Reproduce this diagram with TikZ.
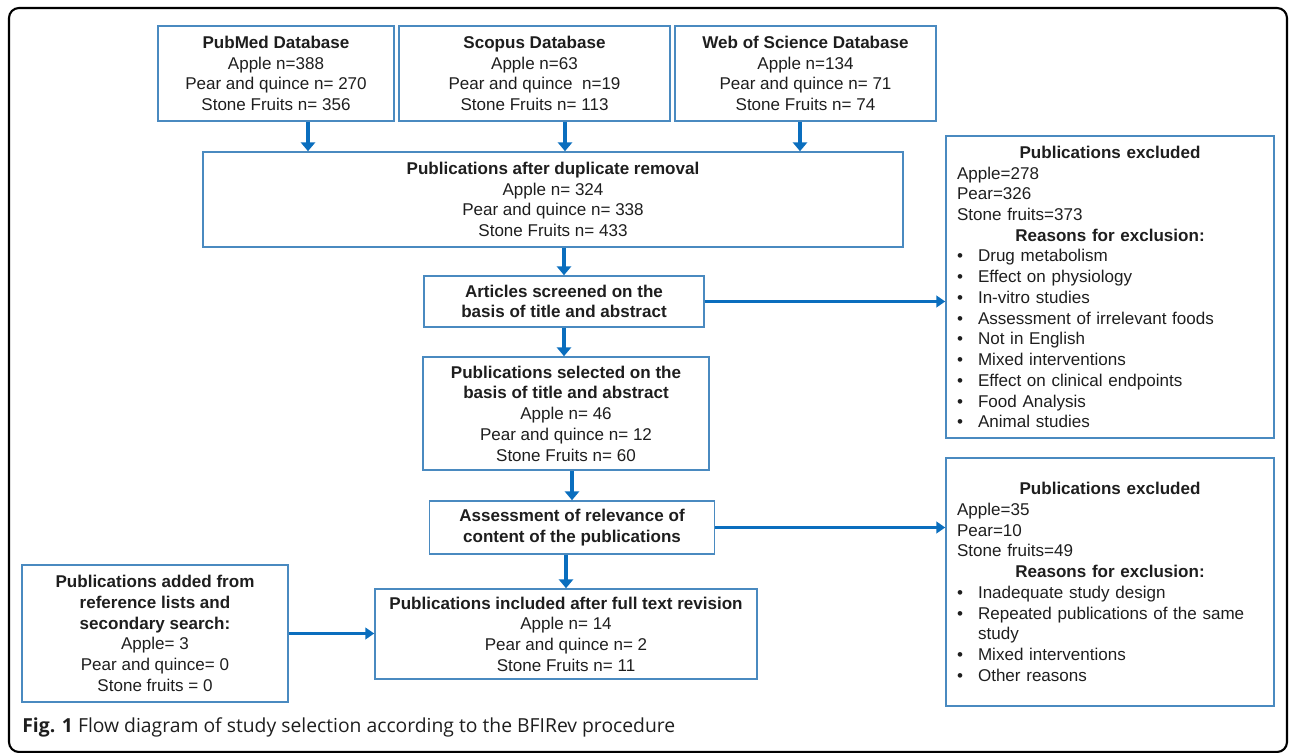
\documentclass[tikz,border=0pt]{standalone}
\usepackage{fontspec}
\setmainfont{Liberation Sans}
\newfontfamily\capfont{Open Sans}
\usetikzlibrary{arrows.meta}
\definecolor{boxblue}{RGB}{74,138,192}
\definecolor{arrowblue}{RGB}{10,110,190}
\definecolor{txt}{RGB}{30,30,30}
\newcommand{\itm}[1]{\makebox[0.42cm][l]{\textbullet}#1}

\begin{document}
\begin{tikzpicture}[x=0.02cm,y=-0.02cm,
    box/.style={draw=boxblue,line width=0.9pt,align=center,inner sep=0pt,
      font=\fontsize{9.7}{11.8}\selectfont,text=txt},
    exbox/.style={box,align=left,inner xsep=0.22cm,text width=6.12cm,
      minimum width=6.56cm},
    down/.style={arrowblue,line width=2.3pt,-{Triangle[width=8pt,length=5pt]}},
    side/.style={arrowblue,line width=1.6pt,-{Triangle[width=6.5pt,length=5pt]}}]
  \useasboundingbox (0,0) rectangle (1290,753);
  \draw[line width=1.2pt,rounded corners=0.2cm] (9,8) rectangle (1287,752);

  % databases
  \node[box,minimum width=4.72cm,minimum height=1.9cm] (pubmed) at (276,73.5)
    {\textbf{PubMed Database}\\Apple n=388\\Pear and quince n= 270\\Stone Fruits n= 356};
  \node[box,minimum width=5.42cm,minimum height=1.9cm] (scopus) at (534.5,73.5)
    {\textbf{Scopus Database}\\Apple n=63\\Pear and quince \ n=19\\Stone Fruits n= 113};
  \node[box,minimum width=5.22cm,minimum height=1.9cm] (wos) at (805.5,73.5)
    {\textbf{Web of Science Database}\\Apple n=134\\Pear and quince n= 71\\Stone Fruits n= 74};

  % main column
  \node[box,minimum width=14cm,minimum height=1.9cm] (dup) at (553,199.5)
    {\textbf{Publications after duplicate removal}\\Apple n= 324\\Pear and quince n= 338\\Stone Fruits n= 433};
  \node[box,minimum width=5.6cm,minimum height=1.02cm] (screen) at (564,301.5)
    {\textbf{Articles screened on the}\\\textbf{basis of title and abstract}};
  \node[box,minimum width=5.72cm,minimum height=2.26cm] (select) at (566,413.5)
    {\textbf{Publications selected on the}\\\textbf{basis of title and abstract}\\Apple n= 46\\Pear and quince n= 12\\Stone Fruits n= 60};
  \node[box,minimum width=5.7cm,minimum height=1.06cm] (assess) at (572,527.5)
    {\textbf{Assessment of relevance of}\\\textbf{content of the publications}};
  \node[box,minimum width=7.64cm,minimum height=1.8cm] (incl) at (566,634)
    {\textbf{Publications included after full text revision}\\Apple n= 14\\Pear and quince n= 2\\Stone Fruits n= 11};
  \node[box,minimum width=5.32cm,minimum height=2.74cm] (added) at (155,633.5)
    {\textbf{Publications added from}\\\textbf{reference lists and}\\\textbf{secondary search:}\\Apple= 3\\Pear and quince= 0\\Stone fruits = 0};

  % exclusions
  \node[exbox,minimum height=6.04cm] (excl1) at (1110,287)
    {\makebox[\hsize]{\bfseries Publications excluded}\\
     Apple=278\\Pear=326\\Stone fruits=373\\
     \makebox[\hsize]{\bfseries Reasons for exclusion:}\\
     \itm{Drug metabolism}\\\itm{Effect on physiology}\\\itm{In-vitro studies}\\
     \itm{Assessment of irrelevant foods}\\\itm{Not in English}\\
     \itm{Mixed interventions}\\\itm{Effect on clinical endpoints}\\
     \itm{Food Analysis}\\\itm{Animal studies}};
  \node[exbox,minimum height=4.96cm] (excl2) at (1110,582)
    {\makebox[\hsize]{\bfseries Publications excluded}\\
     Apple=35\\Pear=10\\Stone fruits=49\\
     \makebox[\hsize]{\bfseries Reasons for exclusion:}\\
     \itm{Inadequate study design}\\\itm{Repeated publications of the same}\\
     \hspace*{0.42cm}study\\\itm{Mixed interventions}\\\itm{Other reasons}};

  % arrows
  \foreach \b/\dx in {pubmed/0.64cm,scopus/0.61cm,wos/-0.11cm}
    \draw[down] ([xshift=\dx]\b.south) -- ([xshift=\dx]\b.south |- dup.north);
  \draw[down] (dup.south -| screen.north) -- (screen.north);
  \draw[down] (screen.south) -- (screen.south |- select.north);
  \draw[down] (select.south -| assess.north) -- (assess.north);
  \draw[down] (assess.south -| incl.north) -- (incl.north);
  \draw[side] (screen.east) -- (screen.east -| excl1.west);
  \draw[side] (assess.east) -- (assess.east -| excl2.west);
  \draw[side] (added.east) -- (added.east -| incl.west);

  % caption
  \node[anchor=west,inner sep=0pt,text=txt,font=\capfont\fontsize{11}{13}\selectfont]
    (cap) at (22,727) {\textbf{Fig. 1} Flow diagram of study selection according to the BFIRev procedure};
\end{tikzpicture}
\end{document}
